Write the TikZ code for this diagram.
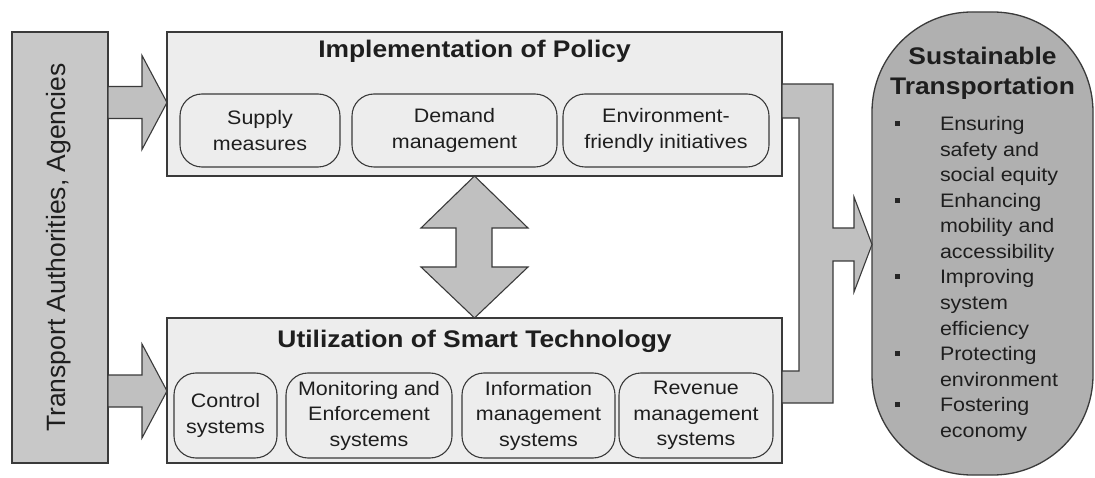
\documentclass[tikz,border=0pt]{standalone}
\usepackage{fontspec}
\setmainfont{Liberation Sans}[FakeStretch=1.1]
\newfontfamily\vfont{Liberation Sans}
\usetikzlibrary{calc}
\definecolor{boxbg}{HTML}{EDEDED}
\definecolor{arrowfill}{HTML}{C0C0C0}
\definecolor{leftfill}{HTML}{C8C8C8}
\definecolor{rightfill}{HTML}{B0B0B0}
\definecolor{edge}{HTML}{3A3A3A}
\definecolor{txt}{HTML}{1E1E1E}
\begin{document}
\begin{tikzpicture}[x=1pt,y=-1pt,
  every node/.style={inner sep=0pt, outer sep=0pt, text=txt},
  bigbox/.style={draw=edge, line width=1.3pt, fill=boxbg, rectangle},
  leftbox/.style={draw=edge, line width=1.3pt, fill=leftfill, rectangle},
  goalbox/.style={draw=edge, line width=1.3pt, fill=rightfill, rectangle, rounded corners=100pt},
  innerbox/.style={draw=edge, line width=1.1pt, rounded corners=22pt, align=center,
    font=\fontsize{19.5}{25.5}\selectfont},
  titletext/.style={font=\fontsize{24}{28}\selectfont\bfseries, anchor=base},
  listtext/.style={font=\fontsize{19.5}{25.5}\selectfont, anchor=base west},
  bulletsq/.style={fill=black!85, minimum width=5pt, minimum height=5pt},
  blockarrow/.style={draw=edge, line width=1.1pt, fill=arrowfill, line join=miter}]
\useasboundingbox (0,0) rectangle (1095,478);

% main boxes
\node[leftbox, minimum width=96pt, minimum height=431pt] (auth) at (60,247.5) {};
\node[rotate=90, font=\vfont\fontsize{26.5}{30}\selectfont] (authtext) at (59,247.5) {Transport Authorities, Agencies};

\node[bigbox, minimum width=615pt, minimum height=144pt] (policy) at (474.5,104) {};
\node[titletext] (policytitle) at (474.5,58) {Implementation of Policy};

\node[bigbox, minimum width=615pt, minimum height=145pt] (tech) at (474.5,390.5) {};
\node[titletext] (techtitle) at (474.5,348) {Utilization of Smart Technology};

\node[goalbox, minimum width=221pt, minimum height=463pt] (goal) at (982.5,243.5) {};
\node[titletext] (goaltitle1) at (982.5,65) {Sustainable};
\node[titletext] (goaltitle2) at (982.5,95) {Transportation};

% inner boxes: policy
\node[innerbox, minimum width=160pt, minimum height=73pt] (supply) at (260,130.5) {Supply\\measures};
\node[innerbox, minimum width=205pt, minimum height=73pt] (demand) at (454.5,130.5) {Demand\\management};
\node[innerbox, minimum width=206pt, minimum height=73pt] (env) at (666,130.5) {Environment-\\friendly initiatives};

% inner boxes: technology
\node[innerbox, minimum width=103pt, minimum height=85pt] (control) at (225.5,415.5) {Control\\systems};
\node[innerbox, minimum width=166pt, minimum height=85pt] (monitor) at (369,415.5) {Monitoring and\\Enforcement\\systems};
\node[innerbox, minimum width=153pt, minimum height=85pt] (info) at (538.5,415.5) {Information\\management\\systems};
\node[innerbox, minimum width=154pt, minimum height=85pt] (revenue) at (696,415.5) {Revenue\\management\\systems};

% list in goal
\foreach \t [count=\i] in {Ensuring, safety and, social equity, Enhancing, mobility and, accessibility, Improving, system, efficiency, Protecting, environment, Fostering, economy}
  \node[listtext] (li\i) at (940,{131+25.5*(\i-1)}) {\t};
\foreach \k in {1,4,7,10,12}
  \node[bulletsq] (bu\k) at (897,{124+25.5*(\k-1)}) {};

% block arrows from authorities
\draw[blockarrow] (auth.east |- 0,86.5) -- (142,86.5) -- (142,55.5) -- (policy.west |- 0,102.5)
  -- (142,149.5) -- (142,118.5) -- (auth.east |- 0,118.5) -- cycle;
\draw[blockarrow] (auth.east |- 0,375) -- (142,375) -- (142,344) -- (tech.west |- 0,391)
  -- (142,438) -- (142,407) -- (auth.east |- 0,407) -- cycle;

% double arrow between policy and technology
\draw[blockarrow] (policy.south) -- (528,228) -- (492,228) -- (492,267) -- (528,267)
  -- (tech.north) -- (421,267) -- (456,267) -- (456,228) -- (421,228) -- cycle;

% merging arrow to goal
\draw[blockarrow] (policy.east |- 0,84) -- (833,84) -- (833,228) -- (854,228) -- (854,197)
  -- (goal.west |- 0,244.5) -- (854,292) -- (854,261) -- (833,261) -- (833,403)
  -- (tech.east |- 0,403) -- (tech.east |- 0,371) -- (799,371) -- (799,118)
  -- (policy.east |- 0,118) -- cycle;
\end{tikzpicture}
\end{document}
